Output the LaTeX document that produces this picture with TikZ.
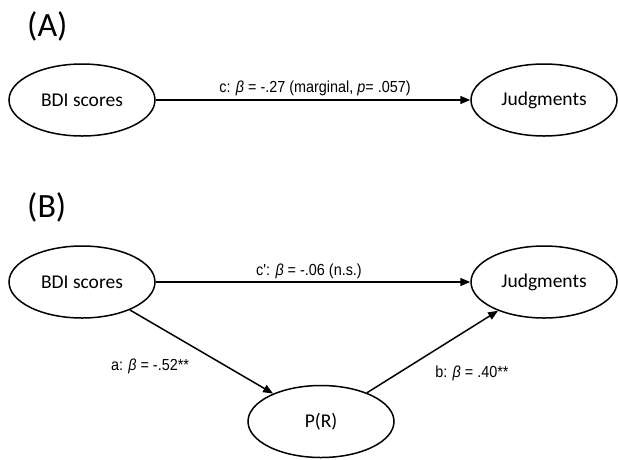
\documentclass[tikz,border=0pt]{standalone}
\usepackage{fontspec}
\setmainfont{Carlito}
\newfontfamily\narrowfont[FakeStretch=0.9]{Liberation Sans}
\usetikzlibrary{arrows.meta,shapes.geometric}
\begin{document}
\begin{tikzpicture}[x=1pt,y=-1pt,
  var/.style={ellipse,draw,line width=1.5pt,minimum width=146pt,minimum height=72pt,inner sep=0pt,font=\fontsize{19.5}{22}\selectfont},
  path/.style={line width=1.5pt,-{Triangle[length=10pt,width=8pt]}},
  lab/.style={font=\narrowfont\fontsize{16}{18}\selectfont,anchor=base,inner sep=0pt},
  panel/.style={font=\fontsize{34}{38}\selectfont,anchor=base west,inner sep=0pt}]
\useasboundingbox (0,0) rectangle (618,459);
\node[panel] (pa) at (27,36) {(A)};
\node[var] (bdiA) at (82,100) {BDI scores};
\node[var] (judA) at (544,100) {Judgments};
\draw[path] (bdiA) -- (judA);
\node[lab] (lc) at (315,92) {c: \textit{β} = -.27 (marginal, \textit{p}= .057)};
\node[panel] (pb) at (27,217) {(B)};
\node[var] (bdiB) at (82,282) {BDI scores};
\node[var] (judB) at (544,282) {Judgments};
\node[var] (pr) at (321,421.5) {P(R)};
\draw[path] (bdiB) -- (judB);
\node[lab] (lcp) at (309,275) {c': \textit{β} = -.06 (n.s.)};
\draw[path] (bdiB) -- (pr);
\draw[path] (pr) -- (judB);
\node[lab] (la) at (150,370) {a: \textit{β} = -.52**};
\node[lab] (lb) at (472,377) {b: \textit{β} = .40**};
\end{tikzpicture}
\end{document}
